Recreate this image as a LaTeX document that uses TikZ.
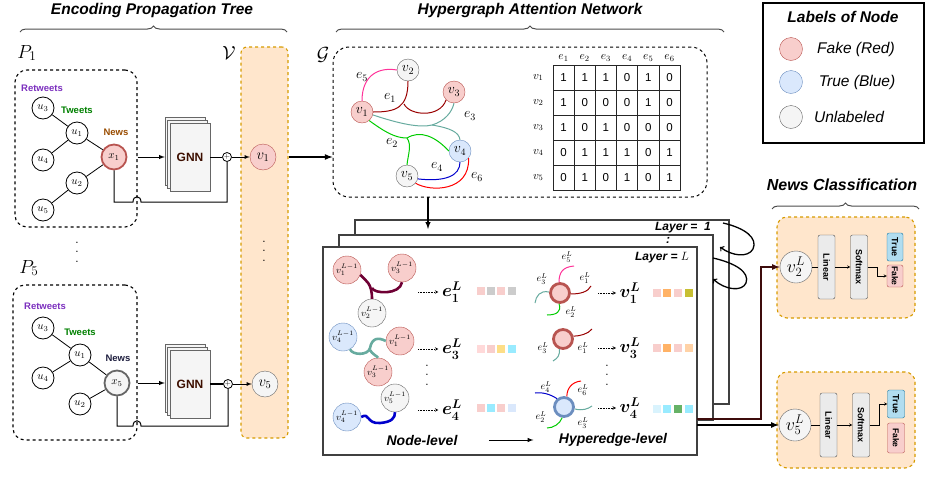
\RequirePackage{fix-cm}
\documentclass[tikz,border=0pt]{standalone}
\usepackage[no-math]{fontspec}
\setsansfont{Liberation Sans}
\usetikzlibrary{ matrix,      % incidence table
                 positioning, % labels round the table
                 decorations.pathreplacing, % braces over the parts
                 arrows,
               }
\newcommand{\fsz}[1]{\fontsize{#1}{#1}\selectfont}
\newcommand{\dotsfont}{\fontsize{14}{9.5}\selectfont}

\definecolor{redfill}{HTML}{F8CECC}
\definecolor{redline}{HTML}{B85450}
\definecolor{bluefill}{HTML}{DAE8FC}
\definecolor{blueline}{HTML}{6C8EBF}
\definecolor{grayfill}{HTML}{F5F5F5}
\definecolor{grayline}{HTML}{666666}
\definecolor{orfill}{HTML}{FFE6CC}
\definecolor{orline}{HTML}{D79B00}
\definecolor{hpink}{HTML}{FF3399}
\definecolor{hdred}{HTML}{990000}
\definecolor{hteal}{HTML}{67AB9F}
\definecolor{hgreen}{HTML}{00CC00}
\definecolor{hblue}{HTML}{0000CC}
\definecolor{hred}{HTML}{FF0000}
\definecolor{hmaroon}{HTML}{6F0034}
\definecolor{retcol}{HTML}{7B2FBE}
\definecolor{twcol}{HTML}{008000}
\definecolor{newscol}{HTML}{994C00}
\definecolor{newsdark}{HTML}{1F1F3F}
\definecolor{gnncol}{HTML}{3D0F00}
\definecolor{truefill}{HTML}{B1DDF0}
\definecolor{trueline}{HTML}{10739E}
\definecolor{outcol}{HTML}{3D0C0C}

\tikzstyle{title} = [font=\sffamily\bfseries\itshape\fsz{15.5}]
\tikzstyle{topbrace} = [decorate, decoration={brace, amplitude=6pt}, draw=black!70, line width=1pt]
\tikzstyle{treebox} = [rectangle, draw=black, dashed, line width=1.1pt, rounded corners=12pt]
\tikzstyle{user} = [circle, draw=black, fill=white, line width=0.8pt, minimum size=22pt, inner sep=0pt, font=\fsz{11}]
\tikzstyle{news} = [circle, line width=1.8pt, minimum size=25pt, inner sep=0pt, font=\fsz{11}]
\tikzstyle{tagtext} = [font=\sffamily\bfseries\fsz{9.5}, inner sep=0pt]
\tikzstyle{gnn} = [rectangle, draw=grayline, fill=grayfill, minimum width=40pt, minimum height=68pt]
\tikzstyle{plus} = [circle, draw=black, fill=white, line width=0.8pt, minimum size=9pt, inner sep=0pt, font=\fsz{7}]
\tikzstyle{redv} = [circle, draw=redline, fill=redfill, inner sep=0pt]
\tikzstyle{bluev} = [circle, draw=blueline, fill=bluefill, inner sep=0pt]
\tikzstyle{grayv} = [circle, draw=grayline, fill=grayfill, inner sep=0pt]
\tikzstyle{orbox} = [rectangle, draw=orline, dashed, fill=orfill, line width=1.1pt, rounded corners=10pt]
\tikzstyle{dotcol} = [align=center, inner sep=0pt, font=\dotsfont]
\tikzstyle{layerbox} = [rectangle, draw=black!75, fill=white, line width=1.1pt]
\tikzstyle{hyper} = [line width=2.6pt]
\tikzstyle{dotarrow} = [->, >=stealth, densely dotted, line width=0.6pt]
\tikzstyle{ring} = [circle, line width=2.8pt, minimum size=19pt, inner sep=0pt]
\tikzstyle{prevv} = [minimum size=28pt, font=\fsz{9.5}]
\tikzstyle{mathbig} = [font=\fsz{18}\boldmath]
\tikzstyle{elabel} = [font=\fsz{10}, inner sep=0pt]
\tikzstyle{cls} = [rectangle, rounded corners=2pt, draw=black!70, fill=black!8, minimum width=64pt, minimum height=17pt, inner sep=1pt, rotate=-90, font=\sffamily\bfseries\fsz{9}]

\begin{document}
\begin{tikzpicture}[x=1pt, y=-1pt, >=latex]
  \useasboundingbox (0,0) rectangle (926,477);

  \node (ttree) [title] at (152,10) {Encoding Propagation Tree};
  \node (thgat) [title] at (530,10) {Hypergraph Attention Network};
  \draw [topbrace] (20,32) -- (287,32);
  \draw [topbrace] (336,32) -- (724,32);

  % propagation tree P1
  \node (p1) [font=\fsz{19}] at (27,53) {$P_1$};
  \node (tree1) [treebox, minimum width=122pt, minimum height=157pt] at (76,148.5) {};
  \node (u3a) [user] at (43,108) {$u_3$};
  \node (u1a) [user] at (77,133) {$u_1$};
  \node (u4a) [user] at (43,160) {$u_4$};
  \node (x1) [news, draw=redline, fill=redfill] at (114,157) {$x_1$};
  \node (u2a) [user] at (77,183) {$u_2$};
  \node (u5a) [user] at (43,210) {$u_5$};
  \node (rt1) [tagtext, text=retcol] at (42,88) {Retweets};
  \node (tw1) [tagtext, text=twcol] at (77,110) {Tweets};
  \node (nw1) [tagtext, text=newscol] at (116,132) {News};
  \draw [line width=0.8pt] (u3a) -- (u1a) -- (u4a);
  \draw [line width=0.8pt] (u1a) -- (x1) -- (u2a) -- (u5a);

  \node (gnn1c) [gnn] at (185,151) {};
  \node (gnn1b) [gnn] at (187.5,154) {};
  \node (gnn1) [gnn, font=\sffamily\bfseries\fsz{12}, text=gnncol] at (190,157) {GNN};
  \node (pl1) [plus] at (227,157) {+};
  \draw [->, line width=1pt] (x1 -| tree1.east) -- (x1 -| gnn1c.west);
  \draw [line width=1pt] (gnn1) -- (pl1);
  \draw [line width=1pt] (x1.south) -- (114,202) -- (133,202) .. controls (133,195) and (141,195) .. (141,202) -| (pl1.south);

  \node (pdots) [dotcol] at (77,252) {.\\.\\.};

  % propagation tree P5
  \node (p5) [font=\fsz{19}] at (29,268) {$P_5$};
  \node (tree5) [treebox, minimum width=124pt, minimum height=155pt] at (75,362.5) {};
  \node (u3b) [user] at (43,328) {$u_3$};
  \node (u1b) [user] at (80,355) {$u_1$};
  \node (u4b) [user] at (43,378) {$u_4$};
  \node (x5) [news, draw=grayline, fill=grayfill] at (117,383) {$x_5$};
  \node (u2b) [user] at (80,404) {$u_2$};
  \node (rt5) [tagtext, text=retcol] at (45,306) {Retweets};
  \node (tw5) [tagtext, text=twcol] at (80,332) {Tweets};
  \node (nw5) [tagtext, text=newsdark] at (118,358) {News};
  \draw [line width=0.8pt] (u3b) -- (u1b) -- (u4b);
  \draw [line width=0.8pt] (u1b) -- (x5) -- (u2b);

  \node (gnn5c) [gnn] at (185,378) {};
  \node (gnn5b) [gnn] at (187.5,381) {};
  \node (gnn5) [gnn, font=\sffamily\bfseries\fsz{12}, text=gnncol] at (190,384) {GNN};
  \node (pl5) [plus] at (228,384) {+};
  \draw [->, line width=1pt] (x5 -| tree5.east) -- (x5 -| gnn5c.west);
  \draw [line width=1.4pt] (gnn5) -- (pl5);
  \draw [line width=1pt] (x5.south) -- (117,426) -- (133,426) .. controls (133,419) and (141,419) .. (141,426) -| (pl5.south);

  % node set V
  \node (vset) [font=\fsz{19}] at (229,53) {$\mathcal{V}$};
  \node (vcol) [orbox, rounded corners=6pt, minimum width=47pt, minimum height=391pt] at (264.5,242.5) {};
  \node (v1) [redv, minimum size=26pt, font=\fsz{15}] at (263,157) {$v_1$};
  \node (v5) [grayv, minimum size=26pt, font=\fsz{15}] at (265,384) {$v_5$};
  \node (vdots) [dotcol] at (264,251) {.\\.\\.};
  \draw [->, line width=0.8pt] (pl1) -- (v1);
  \draw [->, line width=0.8pt] (pl5) -- (v5);

  % hypergraph G
  \node (gset) [font=\fsz{19}] at (323,55) {$\mathcal{G}$};
  \node (gbox) [treebox, line width=1pt, rounded corners=16pt, minimum width=374pt, minimum height=150pt] at (520,122) {};
  \draw [->, line width=1.6pt] (v1 -| vcol.east) -- (v1 -| gbox.west);
  \node (gv1) [redv, minimum size=22pt, font=\fsz{14}] at (362,112) {$v_1$};
  \node (gv2) [grayv, minimum size=22pt, font=\fsz{14}] at (408,70) {$v_2$};
  \node (gv3) [redv, minimum size=22pt, font=\fsz{14}] at (454,92) {$v_3$};
  \node (gv4) [bluev, minimum size=22pt, font=\fsz{14}] at (460,151) {$v_4$};
  \node (gv5) [grayv, minimum size=22pt, font=\fsz{14}] at (407,176) {$v_5$};
  \draw [hpink, line width=1pt] (gv1.north) .. controls (362,74) and (380,67) .. (gv2.west);
  \draw [hdred, line width=1pt] (gv1.east) .. controls (396,112) and (408,108) .. (gv2.south);
  \draw [hdred, line width=1pt] (404,104) .. controls (410,116) and (440,118) .. (gv3.south west);
  \draw [hteal, line width=1pt] (gv1.-15) .. controls (400,124) and (420,128) .. (432,125) .. controls (445,121) and (452,112) .. (gv3.south);
  \draw [hteal, line width=1pt] (432,125) .. controls (450,128) and (459,132) .. (gv4.north);
  \draw [hgreen, line width=1pt] (gv1.-50) .. controls (385,132) and (395,138) .. (407,138) .. controls (420,130) and (435,136) .. (gv4.west);
  \draw [hgreen, line width=1pt] (407,138) .. controls (412,145) and (408,155) .. (gv5.north);
  \draw [hblue, line width=1pt] (gv5.-15) .. controls (445,182) and (460,176) .. (gv4.south);
  \draw [hred, line width=1pt] (gv5.-40) .. controls (430,192) and (470,192) .. (gv4.-40);
  \node (ge5) [font=\fsz{14}] at (362,77) {$e_5$};
  \node (ge1) [font=\fsz{14}] at (390,98) {$e_1$};
  \node (ge3) [font=\fsz{14}] at (470,116) {$e_3$};
  \node (ge2) [font=\fsz{14}] at (392,143) {$e_2$};
  \node (ge4) [font=\fsz{14}] at (437,167) {$e_4$};
  \node (ge6) [font=\fsz{14}] at (477,177) {$e_6$};

  \matrix (inc) [matrix of nodes, column sep=-0.8pt, row sep=-0.8pt,
                 nodes={draw=black!85, line width=0.8pt, outer sep=0pt, minimum width=21.2pt,
                        minimum height=25pt, font=\sffamily\fsz{11.5}}] at (616.5,127.5) {
    1 & 1 & 1 & 0 & 1 & 0 \\
    1 & 0 & 0 & 0 & 1 & 0 \\
    1 & 0 & 1 & 0 & 0 & 0 \\
    0 & 1 & 1 & 1 & 0 & 1 \\
    0 & 1 & 0 & 1 & 0 & 1 \\
  };
  \node (eh1) [above=0pt of inc-1-1, font=\fsz{11.5}] {$e_1$};
  \node (eh2) [above=0pt of inc-1-2, font=\fsz{11.5}] {$e_2$};
  \node (eh3) [above=0pt of inc-1-3, font=\fsz{11.5}] {$e_3$};
  \node (eh4) [above=0pt of inc-1-4, font=\fsz{11.5}] {$e_4$};
  \node (eh5) [above=0pt of inc-1-5, font=\fsz{11.5}] {$e_5$};
  \node (eh6) [above=0pt of inc-1-6, font=\fsz{11.5}] {$e_6$};
  \node (rv1) [left=6pt of inc-1-1, font=\fsz{11.5}] {$v_1$};
  \node (rv2) [left=6pt of inc-2-1, font=\fsz{11.5}] {$v_2$};
  \node (rv3) [left=6pt of inc-3-1, font=\fsz{11.5}] {$v_3$};
  \node (rv4) [left=6pt of inc-4-1, font=\fsz{11.5}] {$v_4$};
  \node (rv5) [left=6pt of inc-5-1, font=\fsz{11.5}] {$v_5$};

  % legend
  \node (legend) [draw=black, line width=1.5pt, minimum width=161pt, minimum height=140pt] at (843.5,73) {};
  \node (lt) [title] at (843,17) {Labels of Node};
  \node (lr) [redv, minimum size=23pt] at (791,49) {};
  \node (lb) [bluev, minimum size=23pt] at (791,82) {};
  \node (lg) [grayv, minimum size=23pt] at (791,117) {};
  \node (lrt) [font=\sffamily\itshape\fsz{15.5}] at (856,49) {Fake (Red)};
  \node (lbt) [font=\sffamily\itshape\fsz{15.5}] at (857,82) {True (Blue)};
  \node (lgt) [font=\sffamily\itshape\fsz{15.5}] at (849,117) {Unlabeled};

  % attention layers
  \coordinate (gout) at (428,197);
  \coordinate (gin) at (428,229);
  \node (lay1) [layerbox, minimum width=374pt, minimum height=184pt] at (542,312) {};
  \draw [->, line width=1.4pt] (gout) -- (gin);
  \node (lay2) [layerbox, minimum width=374pt, minimum height=185pt] at (526,327.5) {};
  \node (lay3) [layerbox, minimum width=374pt, minimum height=208pt] at (510,351) {};
  \node (lone) [font=\sffamily\bfseries\itshape\fsz{12}] at (683,228) {Layer =\ \ 1};
  \node (ldots) [font=\sffamily\bfseries\itshape\fsz{12}] at (668,240) {:};
  \node (lL) [font=\sffamily\bfseries\itshape\fsz{12}] at (662,258) {Layer = $L$};

  % node-level
  \node (a1) [redv, prevv] at (347,270) {$v_1^{L-1}$};
  \node (a3) [redv, prevv] at (402,268) {$v_3^{L-1}$};
  \node (a2) [grayv, prevv] at (372,313) {$v_2^{L-1}$};
  \draw [hyper, hmaroon] (a1.-20) .. controls (366,281) and (372,283) .. (a2.north);
  \draw [hyper, hmaroon] (372,288) .. controls (374,294) and (400,295) .. (a3.south);
  \node (b4) [bluev, prevv] at (343,337) {$v_4^{L-1}$};
  \node (b1) [redv, prevv] at (400,341) {$v_1^{L-1}$};
  \node (b3) [redv, prevv] at (378,372) {$v_3^{L-1}$};
  \draw [hyper, hteal] (b4.-60) .. controls (352,355) and (368,356) .. (370,348) .. controls (372,338) and (378,337) .. (b1.west);
  \draw [hyper, hteal] (370,350) .. controls (372,354) and (377,356) .. (b3.north);
  \node (c5) [grayv, prevv] at (395,398) {$v_5^{L-1}$};
  \node (c4) [bluev, prevv] at (347,417) {$v_4^{L-1}$};
  \draw [hyper, hblue] (c4.east) .. controls (370,412) and (366,424) .. (380,423) .. controls (392,422) and (395,418) .. (c5.south);
  \node (nd1) [dotcol] at (427,375) {.\\.\\.};

  \node (ee1) [mathbig] at (452,292) {$e_1^L$};
  \node (ee3) [mathbig] at (452,349) {$e_3^L$};
  \node (ee4) [mathbig] at (452,410) {$e_4^L$};
  \coordinate (da1) at (418,292);
  \coordinate (da3) at (418,349);
  \coordinate (da4) at (418,410);
  \draw [dotarrow] (da1) -- (ee1);
  \draw [dotarrow] (da3) -- (ee3);
  \draw [dotarrow] (da4) -- (ee4);
  \fill [redfill] (477,287) rectangle ++(8,8); \fill [black!20] (487,287) rectangle ++(8,8);
  \fill [redfill] (497,287) rectangle ++(8,8); \fill [black!20] (508,287) rectangle ++(8,8);
  \fill [pink!60] (477,345) rectangle ++(8,8); \fill [redfill] (487,345) rectangle ++(8,8);
  \fill [yellow!50!orange!45] (497,345) rectangle ++(8,8); \fill [blue!20!cyan!40] (508,345) rectangle ++(8,8);
  \fill [redfill] (477,404) rectangle ++(8,8); \fill [blue!20!cyan!40] (487,404) rectangle ++(8,8);
  \fill [redfill] (497,404) rectangle ++(8,8); \fill [bluefill] (508,404) rectangle ++(8,8);

  % hyperedge-level
  \node (hA) [ring, draw=redline, fill=redfill] at (560,293) {};
  \draw [hpink, line width=1pt] (hA.95) .. controls (559,272) and (563,267) .. (574,266);
  \draw [hdred, line width=1pt] (hA.-5) .. controls (580,294) and (588,292) .. (591,286);
  \draw [hteal, line width=1pt] (hA.175) .. controls (540,290) and (536,296) .. (535,303);
  \draw [hgreen, line width=1pt] (hA.-95) .. controls (562,312) and (556,315) .. (547,315);
  \node (hA5) [elabel] at (567,257) {$e_5^L$};
  \node (hA1) [elabel] at (585,278) {$e_1^L$};
  \node (hA3) [elabel] at (542,279) {$e_3^L$};
  \node (hA2) [elabel] at (571,312) {$e_2^L$};
  \node (hB) [ring, draw=redline, fill=redfill] at (563,339) {};
  \draw [hdred, line width=1pt] (hB.15) .. controls (580,336) and (588,334) .. (592,329);
  \draw [hteal, line width=1pt] (hB.-110) .. controls (560,355) and (558,358) .. (553,361);
  \node (hB3) [elabel] at (543,348) {$e_3^L$};
  \node (hB1) [elabel] at (583,348) {$e_1^L$};
  \node (hC) [ring, draw=blueline, fill=bluefill] at (564,407) {};
  \draw [hred, line width=1pt] (hC.75) .. controls (567,388) and (572,382) .. (581,381);
  \draw [hblue, line width=1pt] (hC.130) .. controls (550,394) and (542,392) .. (535,393);
  \draw [hteal, line width=1pt] (hC.-10) .. controls (582,411) and (588,409) .. (592,406);
  \draw [hgreen, line width=1pt] (hC.-100) .. controls (560,424) and (553,428) .. (547,428);
  \node (hC4) [elabel] at (546,387) {$e_4^L$};
  \node (hC6) [elabel] at (583,390) {$e_6^L$};
  \node (hC2) [elabel] at (541,417) {$e_2^L$};
  \node (hC3) [elabel] at (583,423) {$e_3^L$};
  \node (hd1) [dotcol] at (607,375) {.\\.\\.};

  \node (vA) [mathbig] at (630,293) {$v_1^L$};
  \node (vB) [mathbig] at (630,348) {$v_3^L$};
  \node (vC) [mathbig] at (630,408) {$v_4^L$};
  \coordinate (dh1) at (598,293);
  \coordinate (dh3) at (598,348);
  \coordinate (dh4) at (598,408);
  \draw [dotarrow] (dh1) -- (vA);
  \draw [dotarrow] (dh3) -- (vB);
  \draw [dotarrow] (dh4) -- (vC);
  \fill [redfill] (653,289) rectangle ++(8,8); \fill [orange!60] (663,289) rectangle ++(8,8);
  \fill [redfill] (674,289) rectangle ++(8,8); \fill [yellow!75!black] (685,289) rectangle ++(8,8);
  \fill [redfill] (653,344) rectangle ++(8,8); \fill [orange!60] (663,344) rectangle ++(8,8);
  \fill [redfill] (674,344) rectangle ++(8,8); \fill [orange!35] (685,344) rectangle ++(8,8);
  \fill [cyan!15] (653,405) rectangle ++(8,8); \fill [blue!20!cyan!40] (663,405) rectangle ++(8,8);
  \fill [green!50!black!60] (674,405) rectangle ++(8,8); \fill [blue!20!cyan!40] (685,405) rectangle ++(8,8);

  \node (nl) [font=\sffamily\bfseries\itshape\fsz{14}] at (422,440) {Node-level};
  \node (hl) [font=\sffamily\bfseries\itshape\fsz{14}] at (613,440) {Hyperedge-level};
  \draw [->, line width=1pt, shorten <=28pt, shorten >=22pt] (nl) -- (hl);

  % repeated layers
  \coordinate (loopa) at (723,223);
  \coordinate (loopb) at (713,258);
  \draw [->, >=to, line width=1.3pt] (loopa) .. controls (745,228) and (758,238) .. (753,249) .. controls (748,258) and (732,256) .. (720,247);
  \draw [->, >=to, line width=1.3pt] (loopb) .. controls (735,263) and (750,272) .. (746,283) .. controls (742,292) and (725,290) .. (713,279);

  % news classification
  \node (tcls) [title, font=\sffamily\bfseries\itshape\fsz{16}] at (842,185) {News Classification};
  \draw [topbrace] (772,209) -- (919,209);
  \node (cbox1) [orbox, minimum width=138pt, minimum height=101pt] at (846,267.5) {};
  \node (c1v) [grayv, minimum size=32pt, font=\fsz{18}] at (796,267) {$v_2^L$};
  \node (c1lin) [cls] at (826.5,267) {Linear};
  \node (c1sm) [cls] at (859,267) {Softmax};
  \node (c1t) [cls, fill=truefill, draw=trueline, minimum width=28pt, minimum height=16pt] at (895,247) {True};
  \node (c1f) [cls, fill=redfill, draw=redline, minimum width=22pt, minimum height=16pt, font=\sffamily\bfseries\fsz{8.5}] at (895,276) {Fake};
  \draw (c1v) -- (c1lin);
  \draw [->, >=stealth] (c1lin) -- (c1sm);
  \draw [->, >=stealth] (c1sm.north) -- (877,267) |- (c1f.south);

  \node (cbox2) [orbox, minimum width=138pt, minimum height=96pt] at (846,420) {};
  \node (c2v) [grayv, minimum size=32pt, font=\fsz{18}] at (795,425) {$v_5^L$};
  \node (c2lin) [cls] at (828.5,425) {Linear};
  \node (c2sm) [cls] at (861,425) {Softmax};
  \node (c2t) [cls, fill=truefill, draw=trueline, minimum width=28pt, minimum height=17pt] at (896,404) {True};
  \node (c2f) [cls, fill=redfill, draw=redline, minimum width=30pt, minimum height=17pt, font=\sffamily\bfseries\fsz{8.5}] at (896,438) {Fake};
  \draw (c2v) -- (c2lin);
  \draw [->, >=stealth] (c2lin) -- (c2sm);
  \draw [->, >=stealth] (c2sm.north) -- (879,425) |- (c2t.south);

  \coordinate (outa) at (697,419);
  \coordinate (outb) at (697,425);
  \draw [->, line width=1.6pt, outcol] (outa) -- (761,419) |- (c1v.west);
  \draw [->, line width=1.6pt] (outb) -- (c2v.west);
\end{tikzpicture}
\end{document}
